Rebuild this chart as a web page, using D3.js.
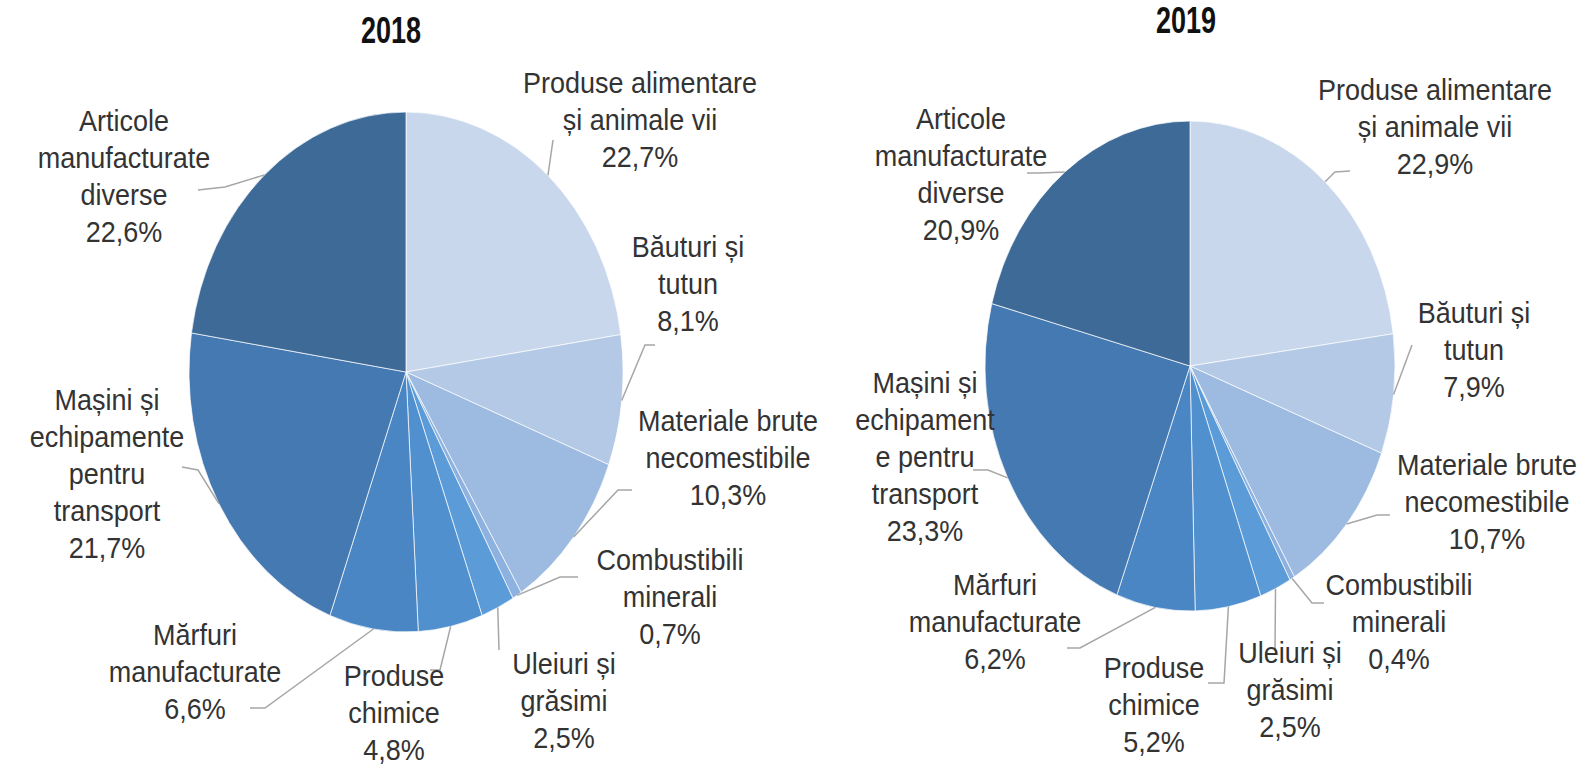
<!DOCTYPE html>
<head>
<meta charset="utf-8">
<title>Structura exporturilor 2018 - 2019</title>
<script src="https://d3js.org/d3.v7.min.js"></script>
<style>
  body { margin: 0; background: #fff; }
  text { font-family: "Liberation Sans", Arial, sans-serif; fill: #333; }
</style>
</head>
<body>
<div id="chart"></div>
<script>
//---------------------------- DATA ----------------------------//
const years = ["2018", "2019"];

const labels2018 = [
  ["Produse alimentare", "și animale vii"],
  ["Băuturi și", "tutun"],
  ["Materiale brute", "necomestibile"],
  ["Combustibili", "minerali"],
  ["Uleiuri și", "grăsimi"],
  ["Produse", "chimice"],
  ["Mărfuri", "manufacturate"],
  ["Mașini și", "echipamente", "pentru", "transport"],
  ["Articole", "manufacturate", "diverse"]
];
const labels2019 = [
  ["Produse alimentare", "și animale vii"],
  ["Băuturi și", "tutun"],
  ["Materiale brute", "necomestibile"],
  ["Combustibili", "minerali"],
  ["Uleiuri și", "grăsimi"],
  ["Produse", "chimice"],
  ["Mărfuri", "manufacturate"],
  ["Mașini și", "echipament", "e pentru", "transport"],
  ["Articole", "manufacturate", "diverse"]
];

const values2018 = [22.7, 8.1, 10.3, 0.7, 2.5, 4.8, 6.6, 21.7, 22.6];
const values2019 = [22.9, 7.9, 10.7, 0.4, 2.5, 5.2, 6.2, 23.3, 20.9];

const colors = ["#c8d7ec", "#b4c9e6", "#9dbbe0", "#8db2e0", "#5a9bd8",
                "#5090cf", "#4a86c3", "#4579b2", "#3d6a97"];

//--------------------------- LAYOUT ---------------------------//
// label anchors (center x, first line y) and leader line bends
const layout = [
  {
    cx: 406, cy: 372, r: 217, k: 1.198, titleX: 391, titleY: 30,
    labelPos: [[640, 83], [688, 247], [728, 421], [670, 560], [564, 664],
               [394, 676], [195, 635], [107, 400], [124, 121]],
    leader: [
      [[553, 140]],
      [[645, 345], [655, 345]],
      [[618, 490], [632, 490]],
      [[560, 577], [578, 577]],
      [[499, 650]],
      [[440, 670], [430, 670]],
      [[265, 708], [250, 708]],
      [[198, 470], [182, 467]],
      [[225, 187], [198, 190]]
    ]
  },
  {
    cx: 1190, cy: 366, r: 205, k: 1.195, titleX: 1186, titleY: 20,
    labelPos: [[1435, 90], [1474, 313], [1487, 465], [1399, 585], [1290, 653],
               [1154, 668], [995, 585], [925, 383], [961, 119]],
    leader: [
      [[1335, 172], [1350, 171]],
      [[1412, 345]],
      [[1377, 515], [1390, 515]],
      [[1312, 603], [1324, 603]],
      [[1275, 650]],
      [[1224, 683], [1208, 683]],
      [[1080, 648], [1067, 648]],
      [[988, 470], [973, 470]],
      [[1040, 173], [1027, 173]]
    ]
  }
];

const lineH = 37;
const fmt = v => v.toFixed(1).replace(".", ",") + "%";

//---------------------------- SVG -----------------------------//
const svg = d3.select("#chart").append("svg")
    .attr("width", 1582)
    .attr("height", 770);

const pie = d3.pie().sort(null).value(d => d);
const lineGen = d3.line();

[values2018, values2019].forEach(function(values, yi) {
  const L = layout[yi];
  const labels = yi === 0 ? labels2018 : labels2019;
  const arcs = pie(values);
  const arc = d3.arc().innerRadius(0).outerRadius(L.r);
  const edge = d3.arc().innerRadius(L.r).outerRadius(L.r);

  // title
  svg.append("text")
      .attr("transform", "translate(" + L.titleX + "," + L.titleY + ") scale(1,1.4)")
      .attr("text-anchor", "middle")
      .attr("dy", "0.35em")
      .style("font-size", "27px")
      .style("font-weight", "bold")
      .style("fill", "#111")
      .text(years[yi]);

  // slices
  svg.append("g")
      .attr("transform", "translate(" + L.cx + "," + L.cy + ") scale(1," + L.k + ")")
    .selectAll("path")
    .data(arcs)
    .enter()
    .append("path")
      .attr("d", arc)
      .attr("fill", (d, i) => colors[i])
      .attr("stroke", "#fff")
      .attr("stroke-opacity", 0.7)
      .attr("stroke-width", 1)
      .attr("vector-effect", "non-scaling-stroke");

  // leader lines
  svg.append("g")
    .selectAll("path")
    .data(arcs)
    .enter()
    .append("path")
      .attr("d", function(d, i) {
        const c = edge.centroid(d);
        const start = [L.cx + c[0], L.cy + c[1] * L.k];
        return lineGen([start].concat(L.leader[i]));
      })
      .attr("fill", "none")
      .attr("stroke", "#a6a6a6")
      .attr("stroke-width", 1.5);

  // labels
  const texts = svg.append("g")
    .selectAll("text")
    .data(arcs)
    .enter()
    .append("text")
      .attr("text-anchor", "middle")
      .attr("transform", (d, i) => "translate(" + L.labelPos[i][0] + "," + L.labelPos[i][1] + ") scale(1,1.08)")
      .style("font-size", "27px");

  texts.each(function(d, i) {
    const t = d3.select(this);
    const lines = labels[i].concat([fmt(d.data)]);
    lines.forEach(function(s, j) {
      t.append("tspan")
        .attr("x", 0)
        .attr("y", j * lineH / 1.08)
        .attr("dy", "0.35em")
        .text(s);
    });
  });
});
</script>
</body>
